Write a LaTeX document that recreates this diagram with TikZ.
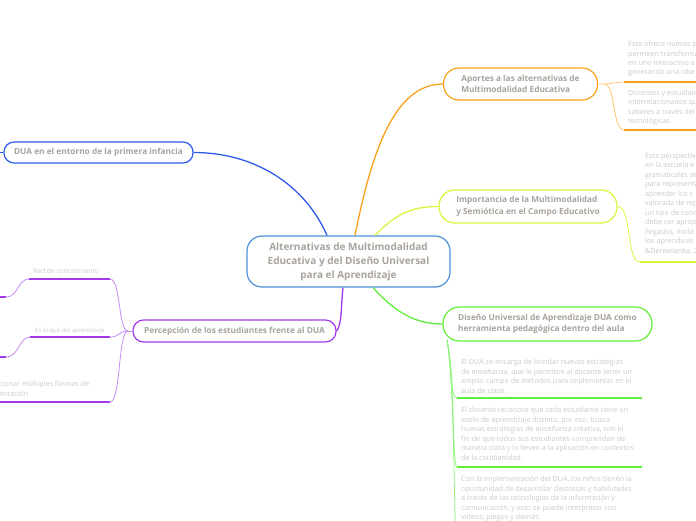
\documentclass[tikz,border=0pt]{standalone}
\usepackage{fontspec}
\setmainfont{Open Sans}
\definecolor{cBlue}{HTML}{2F5BEA}
\definecolor{cCenter}{HTML}{4A90D9}
\definecolor{cOrange}{HTML}{F9A11B}
\definecolor{cOrangeL}{HTML}{FBC56E}
\definecolor{cYellow}{HTML}{D9F53F}
\definecolor{cGreen}{HTML}{5FEF3A}
\definecolor{cGreenL}{HTML}{8FF27A}
\definecolor{cPurple}{HTML}{A23BEC}
\definecolor{cPurpleL}{HTML}{C48BF3}
\definecolor{cTitle}{HTML}{A9A39C}
\definecolor{cBody}{HTML}{C9C9C9}
\begin{document}
\begin{tikzpicture}[x=1pt,y=-1pt,
  box/.style={draw=#1, line width=1.2pt, fill=white, align=left, text=cTitle,
    font=\bfseries\fontsize{8.3}{11.5}\selectfont, inner sep=0pt},
  leaf/.style={anchor=north west, align=left, inner sep=0pt, text=cBody,
    font=\fontsize{7.2}{9.5}\selectfont},
  conn/.style={draw=#1, line width=1.3pt},
  thinconn/.style={draw=#1, line width=0.8pt},
  uline/.style={draw=#1, line width=2pt}]
\useasboundingbox (0,0) rectangle (696,520);
\clip (0,0) rectangle (696,520);

% ---------- coordinates ----------
\coordinate (oB) at (604,84);
\coordinate (o1L) at (624,82);   \coordinate (o1R) at (700,82);
\coordinate (o2L) at (624,130);  \coordinate (o2R) at (700,130);
\coordinate (y1L) at (640,262);  \coordinate (y1R) at (700,262);
\coordinate (gB) at (447,340);
\coordinate (g1L) at (457,398);  \coordinate (g1R) at (642,398);
\coordinate (g2L) at (457,467);  \coordinate (g2R) at (642,467);
\coordinate (g3L) at (457,536);
\coordinate (pB) at (128,331);
\coordinate (p1L) at (29,279);   \coordinate (p1R) at (110,279);
\coordinate (p2L) at (30,337);   \coordinate (p2R) at (110,337);
\coordinate (p3L) at (-5,402);   \coordinate (p3R) at (110,402);
\coordinate (p1x) at (6,297);    \coordinate (p1y) at (-5,297);
\coordinate (p2x) at (6,357);    \coordinate (p2y) at (-5,357);
\coordinate (dL) at (-5,152.5);

% ---------- node boxes (placed first, connectors drawn after, then redrawn on top) ----------
\node[draw=cCenter, line width=1.2pt, rounded corners=15pt, minimum width=203pt,
  minimum height=51pt, align=center, text=cTitle, fill=white,
  font=\bfseries\fontsize{10}{14}\selectfont, inner sep=0pt] (c) at (348.5,261.5)
  {Alternativas de Multimodalidad\\Educativa y del Diseño Universal\\para el Aprendizaje};
\node[box=cBlue, rounded corners=10pt, minimum width=189pt, minimum height=21pt]
  (dua) at (98.5,152.5) {DUA en el entorno de la primera infancia};
\node[box=cOrange, rounded corners=15.5pt, minimum width=154pt, minimum height=32pt]
  (aport) at (520.5,84) {Aportes a las alternativas de\\Multimodalidad Educativa};
\node[box=cYellow, rounded corners=16pt, minimum width=178pt, minimum height=33pt]
  (imp) at (528,206.5) {Importancia de la Multimodalidad\\y Semiótica en el Campo Educativo};
\node[box=cGreen, rounded corners=16.5pt, minimum width=209pt, minimum height=34pt]
  (duac) at (547.5,324) {Diseño Universal de Aprendizaje DUA como\\herramienta pedagógica dentro del aula};
\node[box=cPurple, rounded corners=10.5pt, minimum width=203pt, minimum height=22pt]
  (perc) at (234.5,331) {Percepción de los estudiantes frente al DUA};

% ---------- main connectors ----------
\begin{scope}[on background layer/.style={}]
\draw[conn=cBlue] (dua.east) .. controls (255,152.5) and (305,185) .. ([xshift=-21.5pt]c.north);
\draw[conn=cBlue] (dua.west) -- (dL);
\draw[conn=cOrange] ([xshift=6.5pt]c.north) .. controls (372,150) and (395,84) .. (aport.west);
\draw[conn=cYellow] ([xshift=26.5pt]c.north) .. controls (395,215) and (410,206.5) .. (imp.west);
\draw[conn=cGreen] ([xshift=24.5pt]c.south) .. controls (395,312) and (415,324) .. (duac.west);
\draw[conn=cPurple] ([xshift=-5.5pt]c.south) .. controls (341,305) and (342,325) .. (perc.east);
\end{scope}

% ---------- orange children ----------
\draw[thinconn=cOrangeL] (aport.east) -- (oB) .. controls (614,84) and (614,82) .. (o1L);
\draw[thinconn=cOrangeL] (oB) .. controls (616,84) and (612,130) .. (o2L);
\draw[uline=cOrange] (o1L) -- (o1R);
\draw[uline=cOrange] (o2L) -- (o2R);
\node[leaf, font=\fontsize{7.2}{9.4}\selectfont] (o1) at (628,41) {Esta ofrece nuevas p\\permiten transforma\\en uno interactivo e\\generando una cibe};
\node[leaf, font=\fontsize{7.2}{9.2}\selectfont] (o2) at (628,90) {Docentes y estudian\\interrelacionados qu\\saberes a través del\\tecnológicas.};

% ---------- yellow child ----------
\draw[thinconn=cYellow] (imp.east) .. controls (632,206.5) and (626,262) .. (y1L);
\draw[uline=cYellow] (y1L) -- (y1R);
\node[leaf] (y1) at (645,153) {Esta perspectiv\\en la escuela e\\gramaticales de\\para representa\\aprender los c\\valorada de rep\\un tipo de conc\\debe ser aprop\\llegados, mold\\los aprendices\\\&Derewianka, 2};

% ---------- green children ----------
\draw[thinconn=cGreenL] (gB) .. controls (453,368) and (450,398) .. (g1L);
\draw[thinconn=cGreenL] (gB) .. controls (455,380) and (452,467) .. (g2L);
\draw[thinconn=cGreenL] (gB) .. controls (456,400) and (453,536) .. (g3L);
\draw[uline=cGreen] (g1L) -- (g1R);
\draw[uline=cGreen] (g2L) -- (g2R);
\node[leaf] (g1) at (461,359) {El DUA se encarga de brindar nuevas estrategias\\de enseñanza, que le permiten al docente tener un\\amplio campo de métodos para implementar en el\\aula de clase.};
\node[leaf] (g2) at (461,407) {El docente reconoce que cada estudiante tiene un\\estilo de aprendizaje distinto, por eso, busca\\nuevas estrategias de enseñanza creativa, con el\\fin de que todos sus estudiantes comprendan de\\manera clara y lo lleven a la aplicación en contextos\\de la cotidianidad.};
\node[leaf] (g3) at (461,476) {Con la implementación del DUA, los niños tienen la\\oportunidad de desarrollar destrezas y habilidades\\a través de las tecnologías de la información y\\comunicación, y esto se puede interpretar con\\videos, juegos y demás.};

% ---------- purple children ----------
\draw[thinconn=cPurpleL] (perc.west) -- (pB);
\draw[thinconn=cPurpleL] (pB) .. controls (118,331) and (121,279) .. (p1R);
\draw[thinconn=cPurpleL] (pB) .. controls (118,331) and (120,337) .. (p2R);
\draw[thinconn=cPurpleL] (pB) .. controls (118,331) and (121,402) .. (p3R);
\draw[uline=cPurple] (p1L) -- (p1R);
\draw[uline=cPurple] (p2L) -- (p2R);
\draw[uline=cPurple] (p3L) -- (p3R);
\draw[thinconn=cPurpleL] (p1L) .. controls (18,279) and (18,297) .. (p1x);
\draw[uline=cPurple] (p1x) -- (p1y);
\draw[thinconn=cPurpleL] (p2L) .. controls (19,337) and (19,357) .. (p2x);
\draw[uline=cPurple] (p2x) -- (p2y);
\node[leaf, font=\fontsize{6.7}{9}\selectfont] (p1) at (33,268) {Red de conocimiento};
\node[leaf, font=\fontsize{6}{8}\selectfont] (p2) at (35,327.5) {Es el qué del aprendizaje};
\node[leaf, font=\fontsize{7.2}{9.3}\selectfont] (p3) at (-1,381) {cionar múltiples formas de\\entación};
\end{tikzpicture}
\end{document}
